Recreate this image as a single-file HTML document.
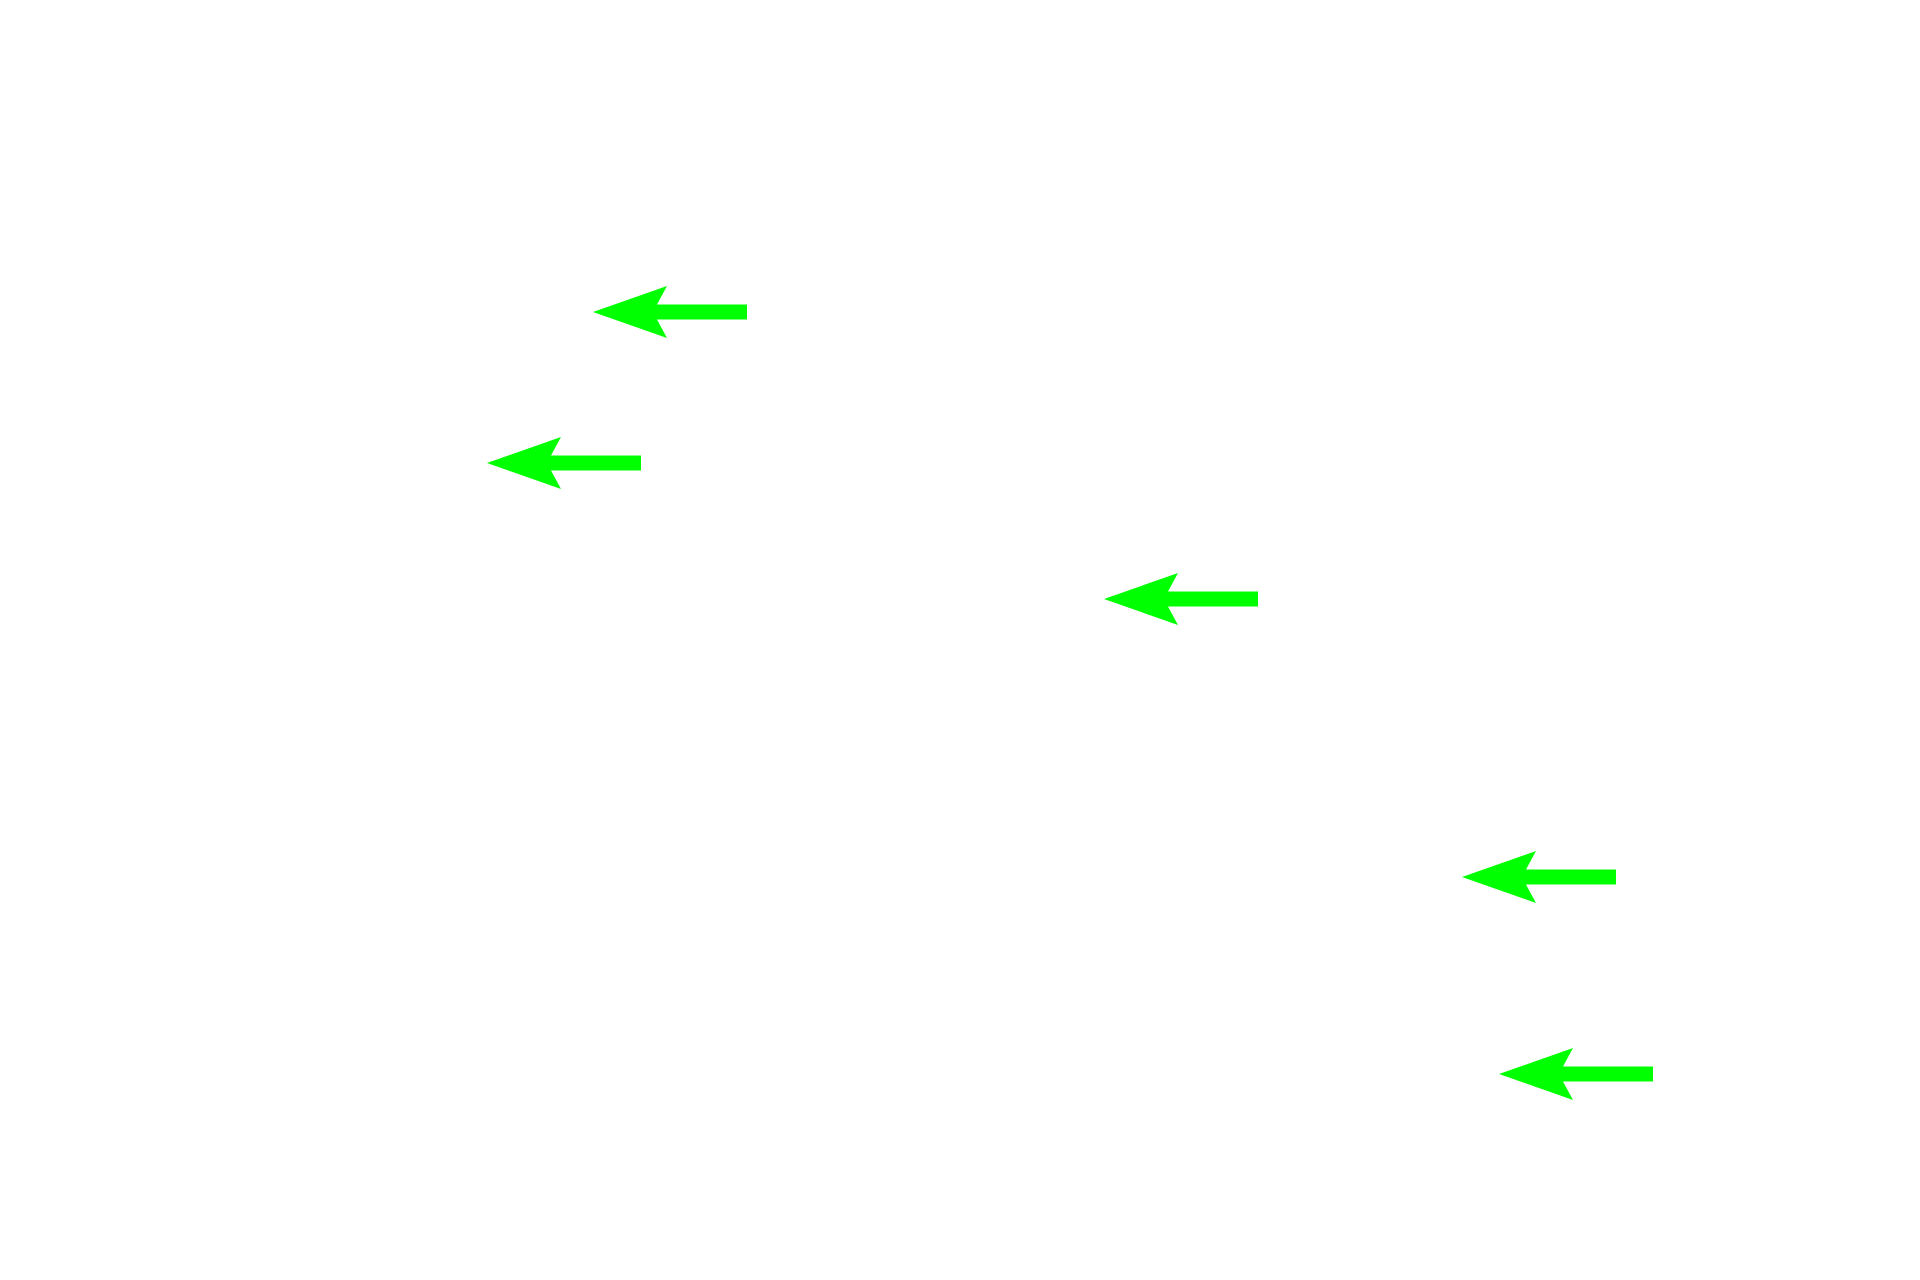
<!DOCTYPE html>
<html><head><meta charset="utf-8"><style>html,body{margin:0;padding:0;background:#fff;}svg{display:block;}</style></head>
<body>
<svg width="1920" height="1280" viewBox="0 0 1920 1280" xmlns="http://www.w3.org/2000/svg">
<defs><polygon id="a" points="0,0 74,-26 64,-7.5 154,-7.5 154,7.5 64,7.5 74,26" fill="#00ff00"/></defs>
<use href="#a" x="593" y="312"/>
<use href="#a" x="487" y="463"/>
<use href="#a" x="1104" y="599"/>
<use href="#a" x="1462" y="877"/>
<use href="#a" x="1499" y="1074"/>
</svg>
</body></html>
